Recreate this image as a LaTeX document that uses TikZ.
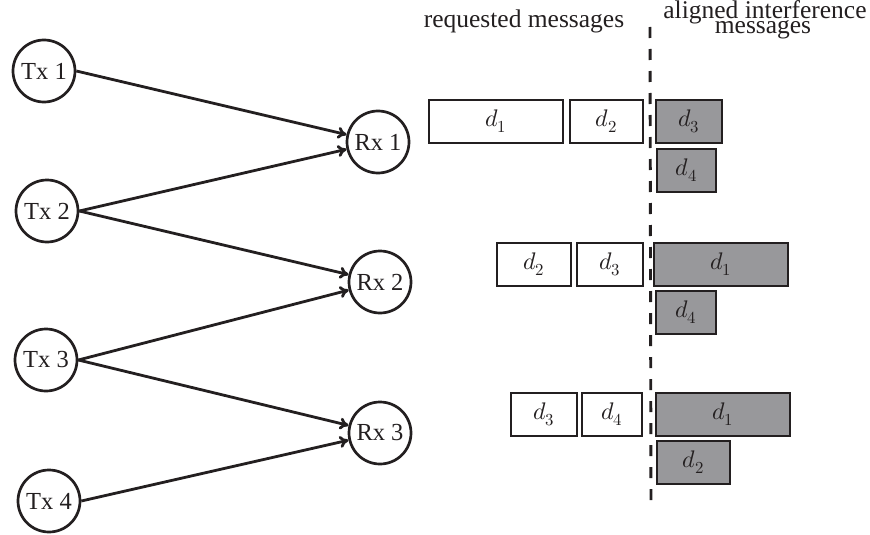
\documentclass[tikz,border=0pt]{standalone}
\usepackage{fontspec}
\usepackage{unicode-math}
\setmainfont{Liberation Serif}
\setmathfont{Latin Modern Math}
\usetikzlibrary{arrows.meta}
\definecolor{ink}{RGB}{35,31,32}
\definecolor{boxgray}{RGB}{152,152,155}
\tikzset{
  term/.style={circle, draw=ink, line width=2.7pt, minimum size=62pt, inner sep=0pt,
    text=ink, font=\fontsize{24.5}{26}\selectfont},
  link/.style={draw=ink, line width=2.8pt, -{To[length=9pt,width=12pt]}},
  msg/.style={draw=ink, line width=2.9pt, rectangle, inner sep=0pt, text=ink,
    font=\fontsize{24}{26}\selectfont},
  req/.style={msg, fill=white},
  intf/.style={msg, fill=boxgray},
  heading/.style={text=ink, font=\fontsize{25.5}{27}\selectfont, inner sep=0pt, anchor=base},
}
\begin{document}
\begin{tikzpicture}[x=1pt, y=-1pt]
\useasboundingbox (0,0) rectangle (870,535);
% transmitters and receivers
\node[term] (tx1) at (44,71) {Tx 1};
\node[term] (tx2) at (47,211) {Tx 2};
\node[term] (tx3) at (46,360) {Tx 3};
\node[term] (tx4) at (49,501) {Tx 4};
\node[term] (rx1) at (378,142) {Rx 1};
\node[term] (rx2) at (380,282) {Rx 2};
\node[term] (rx3) at (380,433) {Rx 3};
\draw[link] (tx1.east) -- (rx1);
\draw[link] (tx2.east) -- (rx1);
\draw[link] (tx2.east) -- (rx2);
\draw[link] (tx3.east) -- (rx2);
\draw[link] (tx3.east) -- (rx3);
\draw[link] (tx4.east) -- (rx3);
% headings
\node[heading] (hreq) at (524,28) {requested messages};
\node[heading] (hal1) at (765,18.5) {aligned interference};
\node[heading] (hal2) at (763,34) {messages};
% divider
\coordinate (dtop) at (650,27);
\coordinate (dbot) at (651,508);
\draw[ink, line width=2.9pt, dash pattern=on 11pt off 11pt] (dtop) -- (dbot);
% row 1
\node[req, minimum width=134pt, minimum height=43pt] (a1) at (496,121.5) {$d_1$};
\node[req, minimum width=73pt, minimum height=43pt] (a2) at (606.5,121.5) {$d_2$};
\node[intf, minimum width=66pt, minimum height=43pt] (a3) at (689,121.5) {$d_3$};
\node[intf, minimum width=59pt, minimum height=43pt] (a4) at (686.5,170.5) {$d_4$};
% row 2
\node[req, minimum width=74pt, minimum height=43pt] (b2) at (534,264.5) {$d_2$};
\node[req, minimum width=66pt, minimum height=43pt] (b3) at (610,264.5) {$d_3$};
\node[intf, minimum width=134pt, minimum height=43pt] (b1) at (721,264.5) {$d_1$};
\node[intf, minimum width=60pt, minimum height=43pt] (b4) at (686,312.5) {$d_4$};
% row 3
\node[req, minimum width=66pt, minimum height=43pt] (c3) at (544,414.5) {$d_3$};
\node[req, minimum width=60pt, minimum height=43pt] (c4) at (612,414.5) {$d_4$};
\node[intf, minimum width=134pt, minimum height=43pt] (c1) at (723,414.5) {$d_1$};
\node[intf, minimum width=73pt, minimum height=43pt] (c2) at (693.5,462.5) {$d_2$};
\end{tikzpicture}
\end{document}
